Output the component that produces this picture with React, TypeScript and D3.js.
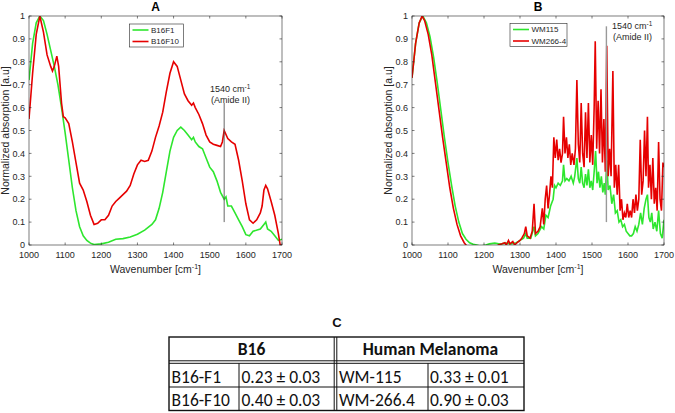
import React from "react";
import * as d3 from "d3";

// spectra: [wavenumber, normalized absorption]
const b16f1: [number, number][] = [
  [1000, 0.72], [1010, 0.88], [1020, 0.97], [1030, 1.0], [1040, 0.98], [1050, 0.92],
  [1060, 0.85], [1070, 0.78], [1080, 0.7], [1090, 0.6], [1100, 0.49], [1110, 0.37],
  [1120, 0.25], [1130, 0.15], [1140, 0.08], [1150, 0.04], [1160, 0.02], [1170, 0.008],
  [1180, 0.002], [1200, 0.005], [1220, 0.012], [1240, 0.025], [1260, 0.028], [1280, 0.035],
  [1300, 0.047], [1320, 0.065], [1340, 0.09], [1350, 0.11], [1360, 0.16], [1370, 0.23],
  [1380, 0.32], [1390, 0.41], [1400, 0.47], [1410, 0.5], [1420, 0.515], [1430, 0.5],
  [1440, 0.48], [1450, 0.46], [1455, 0.47], [1460, 0.45], [1470, 0.43], [1480, 0.42],
  [1490, 0.38], [1500, 0.34], [1510, 0.32], [1520, 0.28], [1530, 0.23], [1540, 0.2],
  [1545, 0.21], [1550, 0.17], [1560, 0.17], [1570, 0.14], [1580, 0.11], [1590, 0.08],
  [1600, 0.045], [1610, 0.04], [1620, 0.06], [1640, 0.07], [1650, 0.09], [1655, 0.1],
  [1660, 0.07], [1670, 0.06], [1680, 0.04], [1690, 0.02], [1700, 0.025],
];

const b16f10: [number, number][] = [
  [1000, 0.55], [1010, 0.75], [1020, 0.92], [1030, 1.0], [1040, 0.93], [1050, 0.83],
  [1060, 0.78], [1065, 0.76], [1070, 0.78], [1077, 0.825], [1082, 0.78], [1090, 0.62],
  [1095, 0.56], [1100, 0.555], [1110, 0.53], [1120, 0.45], [1130, 0.36], [1140, 0.27],
  [1150, 0.24], [1160, 0.19], [1170, 0.13], [1180, 0.09], [1190, 0.095], [1200, 0.11],
  [1210, 0.11], [1220, 0.13], [1230, 0.17], [1240, 0.19], [1250, 0.205], [1260, 0.22],
  [1270, 0.235], [1280, 0.26], [1290, 0.31], [1300, 0.35], [1310, 0.37], [1320, 0.365],
  [1330, 0.37], [1340, 0.41], [1350, 0.47], [1360, 0.52], [1370, 0.58], [1380, 0.67],
  [1390, 0.75], [1400, 0.8], [1410, 0.78], [1420, 0.72], [1430, 0.66], [1440, 0.63],
  [1450, 0.61], [1455, 0.62], [1460, 0.6], [1470, 0.57], [1480, 0.53], [1490, 0.48],
  [1500, 0.45], [1510, 0.44], [1520, 0.435], [1530, 0.43], [1535, 0.45], [1540, 0.5],
  [1550, 0.465], [1560, 0.45], [1570, 0.44], [1580, 0.37], [1590, 0.28], [1600, 0.18],
  [1610, 0.11], [1620, 0.095], [1630, 0.11], [1640, 0.14], [1645, 0.17], [1650, 0.24],
  [1655, 0.26], [1660, 0.245], [1670, 0.19], [1680, 0.13], [1690, 0.05], [1695, 0.0],
  [1700, 0.0],
];

const wm115: [number, number][] = [
  [1000, 0.73], [1010, 0.88], [1020, 0.97], [1030, 1.0], [1040, 0.97], [1050, 0.91],
  [1060, 0.82], [1070, 0.71], [1080, 0.59], [1090, 0.47], [1100, 0.36], [1110, 0.26],
  [1120, 0.17], [1130, 0.1], [1140, 0.05], [1150, 0.025], [1160, 0.01], [1170, 0.003],
  [1180, 0.0], [1190, -0.005], [1205, 0.0], [1215, 0.005], [1230, 0.008], [1245, 0.004],
  [1260, 0.008], [1275, 0.005], [1290, 0.01], [1300, 0.02], [1310, 0.03], [1316, 0.05],
  [1320, 0.03], [1330, 0.03], [1339, 0.08], [1343, 0.04], [1350, 0.05], [1360, 0.08],
  [1366, 0.07], [1372, 0.13], [1378, 0.12], [1385, 0.17], [1392, 0.2], [1396, 0.26],
  [1400, 0.25], [1406, 0.27], [1412, 0.26], [1418, 0.28], [1421, 0.35], [1425, 0.28],
  [1430, 0.29], [1436, 0.28], [1442, 0.3], [1448, 0.27], [1452, 0.3], [1458, 0.38],
  [1462, 0.29], [1466, 0.27], [1470, 0.34], [1474, 0.27], [1478, 0.25], [1482, 0.31],
  [1486, 0.26], [1490, 0.33], [1494, 0.25], [1498, 0.28], [1502, 0.24], [1506, 0.32],
  [1510, 0.41], [1514, 0.27], [1518, 0.32], [1522, 0.25], [1526, 0.3], [1530, 0.23],
  [1534, 0.27], [1537, 0.22], [1541, 0.37], [1545, 0.24], [1550, 0.26], [1555, 0.18],
  [1560, 0.22], [1565, 0.14], [1570, 0.15], [1575, 0.1], [1580, 0.11], [1585, 0.08],
  [1590, 0.09], [1595, 0.06], [1600, 0.05], [1605, 0.04], [1610, 0.04], [1615, 0.05],
  [1620, 0.08], [1625, 0.06], [1630, 0.09], [1635, 0.14], [1640, 0.09], [1645, 0.16],
  [1650, 0.2], [1654, 0.22], [1658, 0.12], [1662, 0.1], [1666, 0.14], [1670, 0.07],
  [1675, 0.1], [1680, 0.06], [1685, 0.15], [1690, 0.05], [1695, 0.03], [1700, 0.11],
];

const wm2664: [number, number][] = [
  [1000, 0.73], [1010, 0.88], [1020, 0.97], [1028, 1.0], [1035, 0.98], [1045, 0.92],
  [1055, 0.83], [1065, 0.71], [1075, 0.59], [1085, 0.47], [1095, 0.36], [1105, 0.25],
  [1115, 0.16], [1125, 0.09], [1135, 0.04], [1145, 0.01], [1155, -0.01], [1170, -0.04],
  [1200, -0.05], [1230, -0.02], [1240, 0.0], [1250, 0.005], [1258, 0.01], [1262, 0.0],
  [1268, 0.02], [1272, 0.005], [1280, 0.015], [1285, 0.0], [1292, 0.01], [1300, 0.02],
  [1305, 0.03], [1312, 0.05], [1316, 0.08], [1320, 0.04], [1328, 0.03], [1334, 0.06],
  [1339, 0.18], [1343, 0.05], [1350, 0.06], [1356, 0.08], [1362, 0.16], [1366, 0.09],
  [1370, 0.2], [1374, 0.26], [1378, 0.16], [1382, 0.22], [1386, 0.3], [1390, 0.25],
  [1394, 0.47], [1398, 0.38], [1402, 0.46], [1406, 0.37], [1410, 0.42], [1414, 0.36],
  [1418, 0.4], [1421, 0.56], [1425, 0.4], [1429, 0.47], [1433, 0.38], [1437, 0.44],
  [1441, 0.35], [1445, 0.4], [1450, 0.35], [1454, 0.42], [1458, 0.72], [1462, 0.44],
  [1466, 0.36], [1470, 0.62], [1474, 0.4], [1478, 0.34], [1482, 0.58], [1486, 0.38],
  [1490, 0.62], [1494, 0.36], [1498, 0.48], [1502, 0.35], [1506, 0.6], [1509, 0.89],
  [1513, 0.42], [1517, 0.63], [1521, 0.4], [1525, 0.68], [1529, 0.36], [1533, 0.55],
  [1537, 0.32], [1541, 0.87], [1545, 0.3], [1549, 0.42], [1553, 0.3], [1558, 0.76],
  [1562, 0.25], [1566, 0.35], [1570, 0.22], [1574, 0.35], [1578, 0.15], [1582, 0.2],
  [1586, 0.11], [1590, 0.14], [1594, 0.12], [1598, 0.18], [1602, 0.12], [1606, 0.15],
  [1610, 0.12], [1614, 0.2], [1618, 0.14], [1622, 0.22], [1626, 0.15], [1630, 0.2],
  [1634, 0.46], [1638, 0.22], [1642, 0.28], [1646, 0.5], [1650, 0.3], [1654, 0.56],
  [1657, 0.25], [1661, 0.35], [1665, 0.2], [1669, 0.38], [1673, 0.18], [1677, 0.25],
  [1681, 0.15], [1685, 0.45], [1689, 0.2], [1693, 0.15], [1697, 0.36], [1700, 0.34],
];

const xTicks = [1000, 1100, 1200, 1300, 1400, 1500, 1600, 1700];
const yTicks = [0, 0.1, 0.2, 0.3, 0.4, 0.5, 0.6, 0.7, 0.8, 0.9, 1];

const tableGroups = ["B16", "Human Melanoma"];
const tableRows = [
  ["B16-F1", "0.23 ± 0.03", "WM-115", "0.33 ± 0.01"],
  ["B16-F10", "0.40 ± 0.03", "WM-266.4", "0.90 ± 0.03"],
];

const GREEN = "#2ee62e";
const RED = "#e60000";
const AX = "#262626";
const FONT = "'Liberation Sans', Arial, Helvetica, sans-serif";

type PanelProps = {
  id: string;
  title: string;
  left: number;
  right: number;
  top: number;
  bottom: number;
  green: [number, number][];
  red: [number, number][];
  names: string[];
  legend: { x: number; y: number; w: number };
  note: { x: number; y: number; y0: number; y1: number; w: number; color: string };
};

function Panel(p: PanelProps) {
  const x = d3.scaleLinear().domain([1000, 1700]).range([p.left, p.right]);
  const y = d3.scaleLinear().domain([0, 1]).range([p.bottom, p.top]);
  const line = d3
    .line<[number, number]>()
    .x(d => x(d[0]))
    .y(d => y(d[1]));
  const tk = 2.5;
  const cx = (p.left + p.right) / 2;
  return (
    <g>
      <defs>
        <clipPath id={"clip" + p.id}>
          <rect x={p.left} y={p.top} width={p.right - p.left} height={p.bottom - p.top} />
        </clipPath>
      </defs>
      <text x={cx} y={11} textAnchor="middle" fontWeight="bold" fontSize={12} fill="#000">
        {p.title}
      </text>
      <g clipPath={`url(#clip${p.id})`}>
        <path d={line(p.green) || ""} fill="none" stroke={GREEN} strokeWidth={1.6} />
        <path d={line(p.red) || ""} fill="none" stroke={RED} strokeWidth={1.6} />
      </g>
      <rect
        x={p.left}
        y={p.top}
        width={p.right - p.left}
        height={p.bottom - p.top}
        fill="none"
        stroke={AX}
        strokeWidth={0.6}
      />
      {xTicks.map(t => (
        <g key={"x" + t}>
          <line x1={x(t)} x2={x(t)} y1={p.bottom} y2={p.bottom - tk} stroke={AX} strokeWidth={0.6} />
          <line x1={x(t)} x2={x(t)} y1={p.top} y2={p.top + tk} stroke={AX} strokeWidth={0.6} />
          <text x={x(t)} y={p.bottom + 13} textAnchor="middle" fontSize={9} fill={AX}>
            {t}
          </text>
        </g>
      ))}
      {yTicks.map(t => (
        <g key={"y" + t}>
          <line x1={p.left} x2={p.left + tk} y1={y(t)} y2={y(t)} stroke={AX} strokeWidth={0.6} />
          <line x1={p.right} x2={p.right - tk} y1={y(t)} y2={y(t)} stroke={AX} strokeWidth={0.6} />
          <text x={p.left - 4} y={y(t) + 3.2} textAnchor="end" fontSize={9} fill={AX}>
            {d3.format("~g")(t)}
          </text>
        </g>
      ))}
      <text x={cx} y={p.bottom + 28} textAnchor="middle" fontSize={10.5} fill={AX}>
        Wavenumber [cm
        <tspan dy={-4} fontSize={7}>-1</tspan>
        <tspan dy={4}>]</tspan>
      </text>
      <text
        transform={`translate(${p.left - 20},${(p.top + p.bottom) / 2}) rotate(-90)`}
        textAnchor="middle"
        fontSize={10.5}
        fill={AX}
      >
        Normalized absorption [a.u]
      </text>
      <line
        x1={x(1540)}
        x2={x(1540)}
        y1={y(p.note.y0)}
        y2={y(p.note.y1)}
        stroke={p.note.color}
        strokeWidth={p.note.w}
      />
      <text x={p.note.x} y={p.note.y} fontSize={9} fill={AX}>
        1540 cm
        <tspan dy={-3.5} fontSize={6.5}>-1</tspan>
      </text>
      <text x={p.note.x + 1} y={p.note.y + 11} fontSize={9} fill={AX}>
        (Amide II)
      </text>
      <rect x={p.legend.x} y={p.legend.y} width={p.legend.w} height={23} fill="#fff" stroke={AX} strokeWidth={0.6} />
      {[GREEN, RED].map((c, i) => (
        <g key={c}>
          <line
            x1={p.legend.x + 3}
            x2={p.legend.x + 19}
            y1={p.legend.y + 6 + i * 11.5}
            y2={p.legend.y + 6 + i * 11.5}
            stroke={c}
            strokeWidth={1.6}
          />
          <text x={p.legend.x + 21.5} y={p.legend.y + 8.8 + i * 11.5} fontSize={8} fill={AX}>
            {p.names[i]}
          </text>
        </g>
      ))}
    </g>
  );
}

function Table() {
  const top = 337;
  const left = 169;
  const right = 524;
  const mid = 335.4;
  const rowY = [337, 362, 387, 410.5];
  const cols = [169, 239, mid, 428, 524];
  const textX = [171.5, 241.5, 339, 430];
  const TF = "Carlito, Lato, 'Open Sans', sans-serif";
  return (
    <g fontFamily={TF} fill="#111">
      <text x={337} y={327} textAnchor="middle" fontWeight="bold" fontSize={13} fontFamily={FONT}>
        C
      </text>
      <rect x={left} y={top} width={right - left} height={rowY[3] - top} fill="none" stroke="#111" strokeWidth={1.4} />
      {/* double rules */}
      <line x1={left} x2={right} y1={360.8} y2={360.8} stroke="#111" strokeWidth={1} />
      <line x1={left} x2={right} y1={363.3} y2={363.3} stroke="#111" strokeWidth={1} />
      <line x1={334.2} x2={334.2} y1={top} y2={rowY[3]} stroke="#111" strokeWidth={1} />
      <line x1={336.8} x2={336.8} y1={top} y2={rowY[3]} stroke="#111" strokeWidth={1} />
      <line x1={left} x2={right} y1={rowY[2]} y2={rowY[2]} stroke="#111" strokeWidth={1} />
      <line x1={cols[1]} x2={cols[1]} y1={363.3} y2={rowY[3]} stroke="#111" strokeWidth={1} />
      <line x1={cols[3]} x2={cols[3]} y1={363.3} y2={rowY[3]} stroke="#111" strokeWidth={1} />
      {tableGroups.map((g, i) => (
        <text
          key={g}
          x={i === 0 ? (left + 334) / 2 : (337 + right) / 2}
          y={355}
          textAnchor="middle"
          fontWeight="bold"
          fontSize={17.5}
        >
          {g}
        </text>
      ))}
      {tableRows.map((r, ri) =>
        r.map((c, ci) => (
          <text key={ri + "-" + ci} x={textX[ci]} y={[383.3, 406][ri]} fontSize={17.5}>
            {c}
          </text>
        ))
      )}
    </g>
  );
}

export default function App() {
  return (
    <div style={{ position: "absolute", left: 0, top: 0 }}>
      <svg width={675} height={413} fontFamily={FONT} style={{ display: "block", background: "#fff" }}>
        <rect width={675} height={413} fill="#fff" />
        <Panel
          id="A"
          title="A"
          left={29}
          right={282}
          top={16}
          bottom={245}
          green={b16f1}
          red={b16f10}
          names={["B16F1", "B16F10"]}
          legend={{ x: 129.5, y: 24, w: 54 }}
          note={{ x: 210, y: 92, y0: 0.62, y1: 0.1, w: 0.9, color: "#555" }}
        />
        <Panel
          id="B"
          title="B"
          left={412}
          right={664}
          top={16}
          bottom={245}
          green={wm115}
          red={wm2664}
          names={["WM115", "WM266-4"]}
          legend={{ x: 510, y: 23.5, w: 57 }}
          note={{ x: 612, y: 29, y0: 0.955, y1: 0.1, w: 1.4, color: "#999" }}
        />
        <Table />
      </svg>
    </div>
  );
}
